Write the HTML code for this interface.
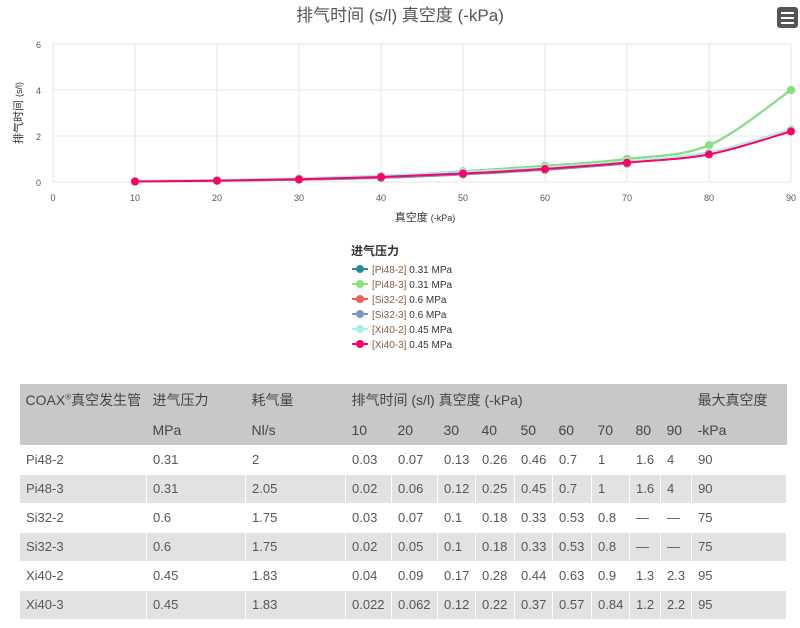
<!DOCTYPE html>
<html><head><meta charset="utf-8"><style>
body{margin:0;width:800px;height:628px;background:#fff;font-family:"Liberation Sans","Noto Sans CJK SC",sans-serif;position:relative;overflow:hidden}
table{position:absolute;left:19px;top:384px;border-collapse:collapse;table-layout:fixed;width:767px;font-size:13px;color:#555}
td{padding:0 0 0 6px;border:1px solid #fff;white-space:nowrap;overflow:hidden}
thead td{background:#c8c8c8;color:#444;font-size:14px;border:none}
tbody tr td{height:28px}
tbody tr:nth-child(even) td{background:#e2e2e2}
.menu{position:absolute;left:777px;top:7px;width:21px;height:21px;background:#555;border-radius:3px}
.menu i{position:absolute;left:4px;width:13px;height:2px;background:#fff}
</style></head><body>
<svg id="c" width="800" height="370" style="position:absolute;left:0;top:0" font-family="Liberation Sans, Noto Sans CJK SC, sans-serif">
<text x="400" y="21" text-anchor="middle" font-size="17" fill="#555">排气时间 (s/l) 真空度 (-kPa)</text>
<g id="grid" stroke="#e6e6e6" stroke-width="1"></g>
<g id="ser"></g>
<text transform="translate(22,113) rotate(-90)" text-anchor="middle" font-size="11" fill="#333">排气时间 <tspan font-size="9">(s/l)</tspan></text>
<text x="425" y="221" text-anchor="middle" font-size="11" fill="#333">真空度 <tspan font-size="9">(-kPa)</tspan></text>
<text x="351" y="255" font-size="12" font-weight="bold" fill="#333">进气压力</text>
<g id="leg" font-size="10" fill="#333"></g>
</svg>
<div class="menu"><i style="top:5px"></i><i style="top:10px"></i><i style="top:15px"></i></div>
<table>
<colgroup><col style="width:127px"><col style="width:99px"><col style="width:100px"><col style="width:46px"><col style="width:46px"><col style="width:38px"><col style="width:39px"><col style="width:38px"><col style="width:39px"><col style="width:38px"><col style="width:31px"><col style="width:31px"><col style="width:95px"></colgroup>
<thead>
<tr style="height:32px"><td>COAX<sup style="font-size:8px">®</sup>真空发生管</td><td>进气压力</td><td>耗气量</td><td colspan="9">排气时间 (s/l) 真空度 (-kPa)</td><td>最大真空度</td></tr>
<tr style="height:29px"><td></td><td>MPa</td><td>Nl/s</td><td>10</td><td>20</td><td>30</td><td>40</td><td>50</td><td>60</td><td>70</td><td>80</td><td>90</td><td>-kPa</td></tr>
</thead>
<tbody>
<tr><td>Pi48-2</td><td>0.31</td><td>2</td><td>0.03</td><td>0.07</td><td>0.13</td><td>0.26</td><td>0.46</td><td>0.7</td><td>1</td><td>1.6</td><td>4</td><td>90</td></tr>
<tr><td>Pi48-3</td><td>0.31</td><td>2.05</td><td>0.02</td><td>0.06</td><td>0.12</td><td>0.25</td><td>0.45</td><td>0.7</td><td>1</td><td>1.6</td><td>4</td><td>90</td></tr>
<tr><td>Si32-2</td><td>0.6</td><td>1.75</td><td>0.03</td><td>0.07</td><td>0.1</td><td>0.18</td><td>0.33</td><td>0.53</td><td>0.8</td><td>—</td><td>—</td><td>75</td></tr>
<tr><td>Si32-3</td><td>0.6</td><td>1.75</td><td>0.02</td><td>0.05</td><td>0.1</td><td>0.18</td><td>0.33</td><td>0.53</td><td>0.8</td><td>—</td><td>—</td><td>75</td></tr>
<tr><td>Xi40-2</td><td>0.45</td><td>1.83</td><td>0.04</td><td>0.09</td><td>0.17</td><td>0.28</td><td>0.44</td><td>0.63</td><td>0.9</td><td>1.3</td><td>2.3</td><td>95</td></tr>
<tr><td>Xi40-3</td><td>0.45</td><td>1.83</td><td>0.022</td><td>0.062</td><td>0.12</td><td>0.22</td><td>0.37</td><td>0.57</td><td>0.84</td><td>1.2</td><td>2.2</td><td>95</td></tr>
</tbody></table>
<script>
var NS="http://www.w3.org/2000/svg";
function X(v){return 53+v*8.2}function Y(v){return 182-v*23}
function el(t,a,p){var e=document.createElementNS(NS,t);for(var k in a)e.setAttribute(k,a[k]);p.appendChild(e);return e}
var g=document.getElementById('grid'),svg=document.getElementById('c');
for(var i=0;i<=9;i++)el('line',{x1:X(i*10),x2:X(i*10),y1:44,y2:182},g);
for(var j=0;j<=3;j++){el('line',{x1:53,x2:791,y1:Y(j*2),y2:Y(j*2)},g);var t=el('text',{x:36,y:Y(j*2)+4,'font-size':9,fill:'#555'},svg);t.textContent=j*2;}
for(var i=0;i<=9;i++){var t=el('text',{x:X(i*10),y:201,'font-size':9,fill:'#555','text-anchor':'middle'},svg);t.textContent=i*10;}
var S=[["Pi48-2","0.31","#2a8c8c",[.03,.07,.13,.26,.46,.7,1,1.6,4]],
["Pi48-3","0.31","#86e27a",[.02,.06,.12,.25,.45,.7,1,1.6,4]],
["Si32-2","0.6","#f45b5b",[.03,.07,.1,.18,.33,.53,.8]],
["Si32-3","0.6","#7798bf",[.02,.05,.1,.18,.33,.53,.8]],
["Xi40-2","0.45","#aaeeee",[.04,.09,.17,.28,.44,.63,.9,1.3,2.3]],
["Xi40-3","0.45","#ff0066",[.022,.062,.12,.22,.37,.57,.84,1.2,2.2]]];
var sg=document.getElementById('ser'),lg=document.getElementById('leg');
S.forEach(function(s,k){var p=s[3].map(function(v,i){return[X((i+1)*10),Y(v)]});
var d="M"+p[0];for(var i=0;i<p.length-1;i++){var a=p[i-1]||p[i],b=p[i],c=p[i+1],e=p[i+2]||c;
d+=" C"+(b[0]+(c[0]-a[0])/6)+","+(b[1]+(c[1]-a[1])/6)+" "+(c[0]-(e[0]-b[0])/6)+","+(c[1]-(e[1]-b[1])/6)+" "+c;}
el('path',{d:d,fill:'none',stroke:s[2],'stroke-width':2},sg);
p.forEach(function(q){el('circle',{cx:q[0],cy:q[1],r:4,fill:s[2]},sg)});
var y=269+k*15;el('line',{x1:352,x2:368,y1:y,y2:y,stroke:s[2],'stroke-width':2},lg);el('circle',{cx:360,cy:y,r:4,fill:s[2]},lg);
var t=el('text',{x:372,y:y+4},lg);t.innerHTML='<tspan fill="#8a5a3a">['+s[0]+']</tspan> '+s[1]+' MPa';});
</script>
</body></html>
